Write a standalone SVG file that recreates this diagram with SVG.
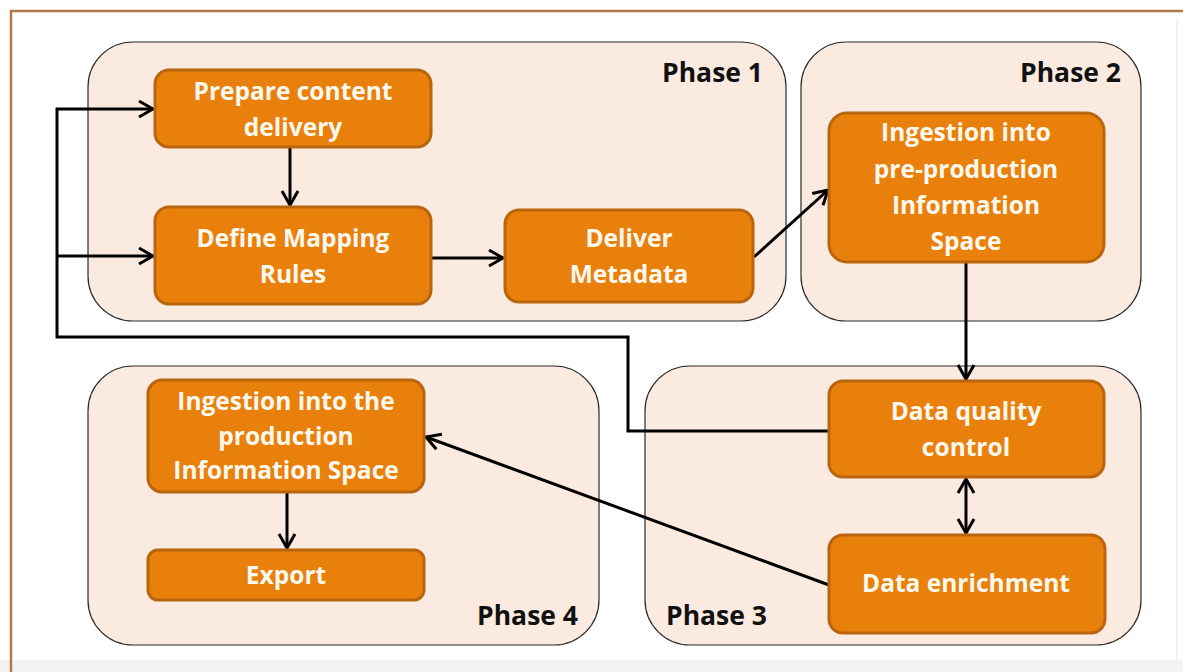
<svg xmlns="http://www.w3.org/2000/svg" width="1183" height="672" viewBox="0 0 1183 672">
<defs>
<style>
.phase{fill:#fbeae0;stroke:#2a2a2a;stroke-width:1.2}
.node{fill:#e9800b;stroke:#b9650e;stroke-width:3}
.nt{font-family:"Open Sans",Lato,sans-serif;font-weight:bold;font-size:24.5px;fill:#fff8ee;text-anchor:middle}
.pt{font-family:"Open Sans",Lato,sans-serif;font-weight:bold;font-size:26.5px;fill:#111}
.con{fill:none;stroke:#000;stroke-width:3}
</style>
<marker id="arr" viewBox="0 0 20 20" refX="18" refY="10" markerWidth="20" markerHeight="20" markerUnits="userSpaceOnUse" orient="auto-start-reverse">
<path d="M4,2 L18,10 L4,18" fill="none" stroke="#000" stroke-width="3"/>
</marker>
</defs>
<rect x="0" y="0" width="1183" height="672" fill="#ffffff"/>
<rect x="0" y="660" width="1183" height="12" fill="#f3f3f3"/>
<path d="M11,672 V11 H1183" fill="none" stroke="#b07a4e" stroke-width="2.5"/>
<line x1="1177" y1="18" x2="1177" y2="660" stroke="#e6e6e6" stroke-width="1"/>

<g id="phase1"><rect class="phase" x="88" y="42" width="698" height="279" rx="45"/><text class="pt" x="763" y="82" text-anchor="end">Phase 1</text></g>
<g id="phase2"><rect class="phase" x="801" y="42" width="340" height="279" rx="45"/><text class="pt" x="1121" y="82" text-anchor="end">Phase 2</text></g>
<g id="phase4"><rect class="phase" x="88" y="366" width="511" height="279" rx="45"/><text class="pt" x="578" y="625" text-anchor="end">Phase 4</text></g>
<g id="phase3"><rect class="phase" x="645" y="366" width="496" height="279" rx="45"/><text class="pt" x="666" y="625">Phase 3</text></g>

<g id="connectors">
<line class="con" x1="290" y1="148" x2="290" y2="205" marker-end="url(#arr)"/>
<line class="con" x1="432" y1="258" x2="503" y2="258" marker-end="url(#arr)"/>
<line class="con" x1="754" y1="257" x2="828" y2="190" marker-end="url(#arr)"/>
<line class="con" x1="966" y1="263" x2="966" y2="379" marker-end="url(#arr)"/>
<line class="con" x1="966" y1="479" x2="966" y2="533" marker-start="url(#arr)" marker-end="url(#arr)"/>
<line class="con" x1="829" y1="585" x2="426" y2="437" marker-end="url(#arr)"/>
<line class="con" x1="287" y1="493" x2="287" y2="548" marker-end="url(#arr)"/>
<path class="con" d="M829,431 H628 V337 H57 V109 H153" marker-end="url(#arr)"/>
<path class="con" d="M57,256 H153" marker-end="url(#arr)"/>
</g>

<g id="prepare"><rect class="node" x="155" y="70" width="276" height="77" rx="14"/><text class="nt" x="293" y="100">Prepare content</text><text class="nt" x="293" y="136">delivery</text></g>
<g id="define"><rect class="node" x="155" y="207" width="276" height="97" rx="14"/><text class="nt" x="293" y="247">Define Mapping</text><text class="nt" x="293" y="283">Rules</text></g>
<g id="deliver"><rect class="node" x="505" y="210" width="248" height="92" rx="14"/><text class="nt" x="629" y="247">Deliver</text><text class="nt" x="629" y="283">Metadata</text></g>
<g id="ingest-pre"><rect class="node" x="829" y="113" width="275" height="149" rx="18"/><text class="nt" x="966" y="141">Ingestion into</text><text class="nt" x="966" y="178">pre-production</text><text class="nt" x="966" y="214">Information</text><text class="nt" x="966" y="250">Space</text></g>
<g id="dqc"><rect class="node" x="829" y="381" width="275" height="96" rx="14"/><text class="nt" x="966" y="420">Data quality</text><text class="nt" x="966" y="456">control</text></g>
<g id="enrich"><rect class="node" x="829" y="535" width="276" height="98" rx="14"/><text class="nt" x="966" y="592">Data enrichment</text></g>
<g id="ingest-prod"><rect class="node" x="148" y="380" width="276" height="112" rx="14"/><text class="nt" x="286" y="410" font-size="22">Ingestion into the</text><text class="nt" x="286" y="445" font-size="22">production</text><text class="nt" x="286" y="479" font-size="22">Information Space</text></g>
<g id="export"><rect class="node" x="148" y="550" width="276" height="50" rx="10"/><text class="nt" x="286" y="584">Export</text></g>
</svg>
